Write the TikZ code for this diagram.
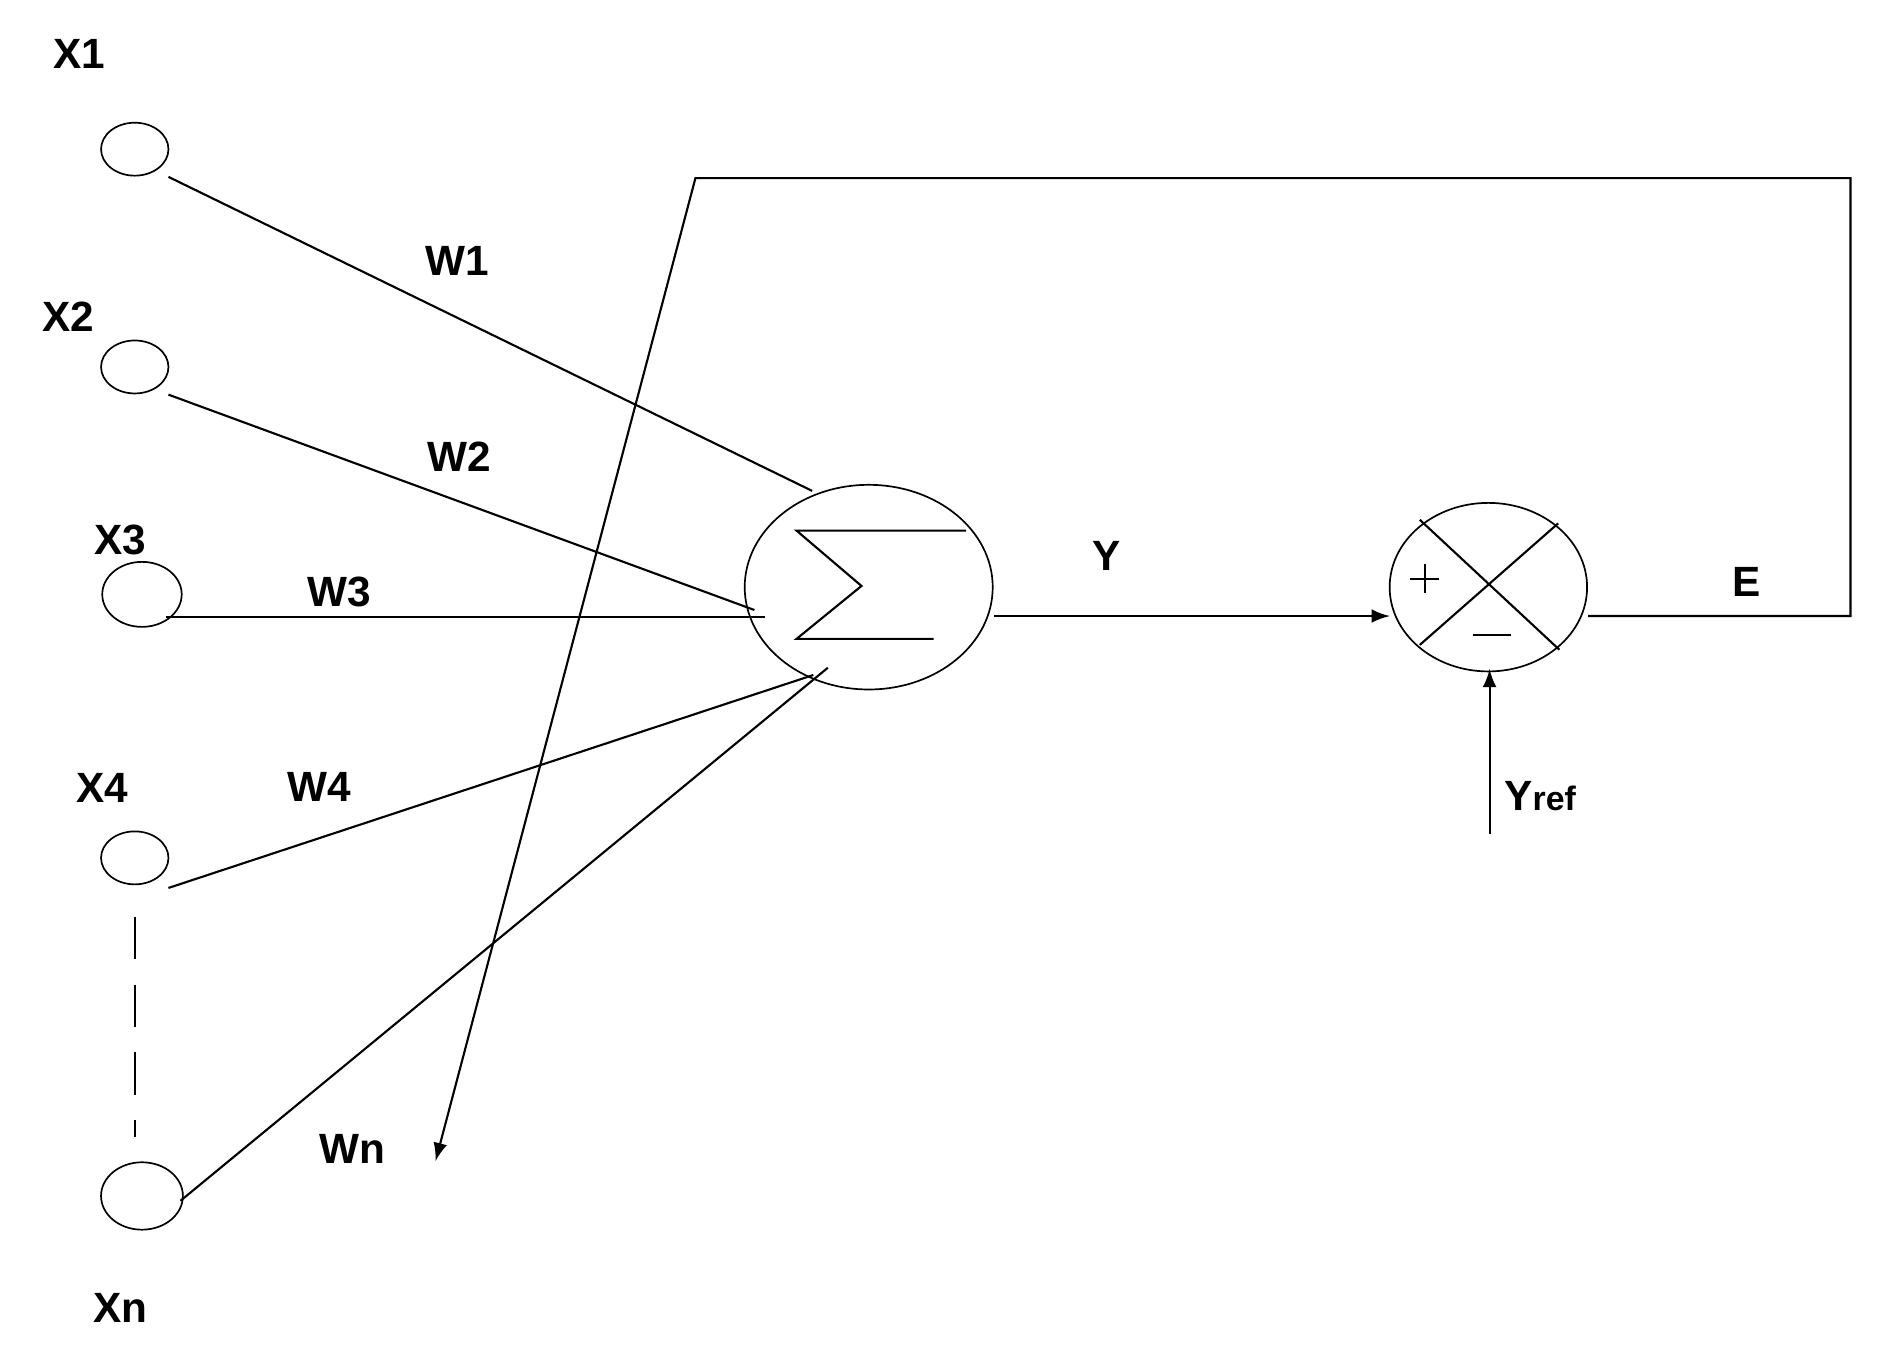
\documentclass[tikz,border=0pt]{standalone}
\usepackage{fontspec}
\setmainfont{Liberation Sans}
\begin{document}
\begin{tikzpicture}[x=0.01cm,y=-0.01cm,
  lbl/.style={font=\fontsize{10}{12}\selectfont\bfseries,inner sep=0},
  inp/.style={draw,ellipse,minimum width=56,minimum height=44,inner sep=0},
  ln/.style={line width=0.5pt},
  >=latex]
\useasboundingbox (0,0) rectangle (1560,1131);
\tikzset{every node/.append style={}}
\usetikzlibrary{shapes.geometric}
\node[draw,ellipse,minimum width=0.56cm,minimum height=0.44cm,inner sep=0] (x1) at (112,124) {};
\node[draw,ellipse,minimum width=0.56cm,minimum height=0.44cm,inner sep=0] (x2) at (112,305) {};
\node[draw,ellipse,minimum width=0.66cm,minimum height=0.54cm,inner sep=0] (x3) at (118,494) {};
\node[draw,ellipse,minimum width=0.56cm,minimum height=0.44cm,inner sep=0] (x4) at (112,713) {};
\node[draw,ellipse,minimum width=0.68cm,minimum height=0.56cm,inner sep=0] (xn) at (118,994) {};
\node[draw,ellipse,minimum width=2.06cm,minimum height=1.70cm,inner sep=0] (sum) at (722,488) {};
\node[draw,ellipse,minimum width=1.64cm,minimum height=1.40cm,inner sep=0] (mul) at (1237,488) {};
\node[lbl] (lx1) at (66,45) {X1};
\node[lbl] (lx2) at (57,263) {X2};
\node[lbl] (lx3) at (100,449) {X3};
\node[lbl] (lx4) at (85,655) {X4};
\node[lbl] (lxn) at (100,1087) {Xn};
\node[lbl] (lw1) at (380,217) {W1};
\node[lbl] (lw2) at (382,380) {W2};
\node[lbl] (lw3) at (282,492) {W3};
\node[lbl] (lw4) at (265,654) {W4};
\node[lbl] (lwn) at (293,955) {Wn};
\node[lbl] (ly) at (920,462) {Y};
\node[lbl] (le) at (1452,484) {E};
\node[lbl] (lyr) at (1280,662) {Y\fontsize{8}{10}\selectfont ref};
\coordinate (a1) at (140,147); \coordinate (b1) at (675,408);
\coordinate (a2) at (140,328); \coordinate (b2) at (627,507);
\coordinate (a3) at (138,513); \coordinate (b3) at (636,513);
\coordinate (a4) at (140,738); \coordinate (b4) at (676,561);
\coordinate (an) at (150,998); \coordinate (bn) at (688,555);
\draw[ln] (a1)--(b1); \draw[ln] (a2)--(b2); \draw[ln] (a3)--(b3);
\draw[ln] (a4)--(b4); \draw[ln] (an)--(bn);
\draw[ln,dashed,dash pattern=on 10pt off 6pt] (112,762)--(112,945);
\draw[ln] (803,441)--(662,441)--(716,487)--(662,531)--(776,531);
\draw[ln,->] (826,512)--(1155,512);
\draw[ln] (1180,432)--(1296,540) (1295,435)--(1180,536);
\draw[ln] (1172,481)--(1196,481) (1184,469)--(1184,493);
\draw[ln] (1224,528)--(1256,528);
\coordinate (yr) at (1238,693);
\draw[ln,->] (yr)--(1238,556);
\draw[ln,->] (1320,512)--(1538,512)--(1538,148)--(578,148)--(362,965);
\end{tikzpicture}
\end{document}
